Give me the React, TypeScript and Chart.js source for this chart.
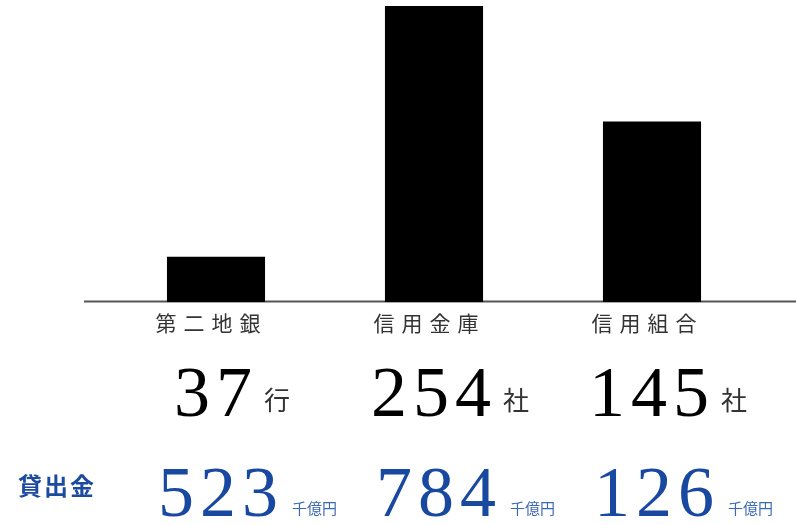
import React, { useEffect, useRef } from "react";
import { Chart, registerables } from "chart.js";

Chart.register(...registerables);

const categories = ["第二地銀", "信用金庫", "信用組合"];
const barValues = [45, 295, 180];
const counts = ["37", "254", "145"];
const countUnits = ["行", "社", "社"];
const loanLabel = "貸出金";
const loans = ["523", "784", "126"];
const loanUnit = "千億円";

const SERIF = '"Liberation Serif", "Times New Roman", serif';
const SANS = '"Noto Sans CJK JP", "Noto Sans", sans-serif';

function drawSpaced(ctx: CanvasRenderingContext2D, text: string, x: number, y: number, spacing: number) {
  (ctx as any).letterSpacing = spacing + "px";
  ctx.fillText(text, x, y);
  (ctx as any).letterSpacing = "0px";
}

function widthSpaced(ctx: CanvasRenderingContext2D, text: string, spacing: number) {
  (ctx as any).letterSpacing = spacing + "px";
  const w = ctx.measureText(text).width;
  (ctx as any).letterSpacing = "0px";
  return w - spacing;
}

const overlay = {
  id: "overlay",
  beforeDatasetsDraw(chart: any) {
    const ctx = chart.ctx as CanvasRenderingContext2D;
    const y0 = chart.scales.y.getPixelForValue(0);
    ctx.save();
    ctx.fillStyle = "#555555";
    ctx.fillRect(84, y0 - 1.5, 712, 2);
    ctx.restore();
  },
  afterDraw(chart: any) {
    const ctx = chart.ctx as CanvasRenderingContext2D;
    const xs = chart.scales.x;
    ctx.save();
    ctx.textBaseline = "alphabetic";
    ctx.textAlign = "left";
    categories.forEach((cat, i) => {
      const cx = xs.getPixelForValue(i);
      // category label
      ctx.font = `400 21px ${SANS}`;
      ctx.fillStyle = "#333333";
      const lw = widthSpaced(ctx, cat, 7);
      drawSpaced(ctx, cat, cx - lw / 2 - 8, 331, 7);

      // count
      ctx.font = `400 72px ${SERIF}`;
      ctx.fillStyle = "#000000";
      const nw = widthSpaced(ctx, counts[i], 6);
      const nx = cx - nw / 2 - 3;
      drawSpaced(ctx, counts[i], nx, 416, 6);
      ctx.font = `400 26px ${SANS}`;
      ctx.fillStyle = "#333333";
      ctx.fillText(countUnits[i], nx + nw + 12, 410);

      // loans
      ctx.font = `400 72px ${SERIF}`;
      ctx.fillStyle = "#1848a0";
      const lw2 = widthSpaced(ctx, loans[i], 6);
      const lx = cx - lw2 / 2 + 2;
      drawSpaced(ctx, loans[i], lx, 516, 6);
      ctx.font = `400 15px ${SANS}`;
      ctx.fillStyle = "#3d68b2";
      ctx.fillText(loanUnit, lx + lw2 + 14, 514);
    });
    ctx.font = `700 24px ${SANS}`;
    ctx.fillStyle = "#1c4a9e";
    drawSpaced(ctx, loanLabel, 18, 495, 2);
    ctx.restore();
  },
};

export default function App() {
  const ref = useRef<HTMLCanvasElement>(null);
  useEffect(() => {
    document.body.style.margin = "0";
    const chart = new Chart(ref.current!, {
      type: "bar",
      data: {
        labels: categories,
        datasets: [
          {
            data: barValues,
            backgroundColor: "#000000",
            borderWidth: 0,
            barPercentage: 0.45,
            categoryPercentage: 1,
          },
        ],
      },
      options: {
        responsive: false,
        animation: false,
        events: [],
        layout: { padding: { left: 107, right: 35, top: 1, bottom: 223 } },
        plugins: { legend: { display: false }, tooltip: { enabled: false } },
        scales: {
          x: { display: false },
          y: { display: false, min: 0, max: 300 },
        },
      },
      plugins: [overlay],
    });
    return () => chart.destroy();
  }, []);
  return (
    <div style={{ width: 796, height: 525, background: "#fff" }}>
      <canvas ref={ref} width={796} height={525} style={{ display: "block" }} />
    </div>
  );
}
